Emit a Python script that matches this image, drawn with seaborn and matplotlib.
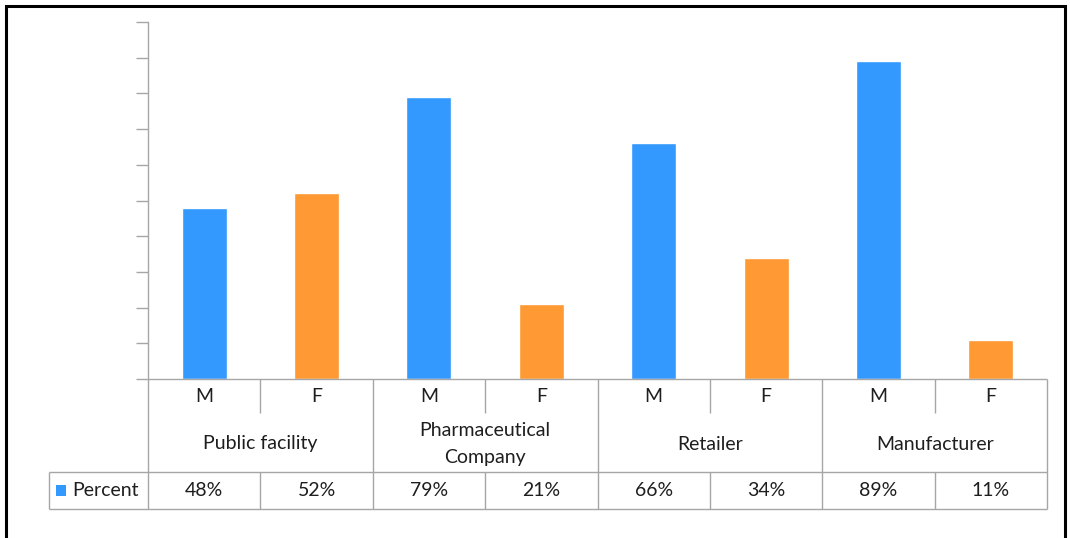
import matplotlib
matplotlib.use("Agg")
import matplotlib.pyplot as plt
from matplotlib.patches import Rectangle
from matplotlib.transforms import blended_transform_factory
import seaborn as sns
import pandas as pd

# Chart data
groups = ["Public facility", "Pharmaceutical\nCompany", "Retailer", "Manufacturer"]
sexes = ["M", "F"]
percent = [48, 52, 79, 21, 66, 34, 89, 11]
series_name = "Percent"

BLUE = "#3399FF"
ORANGE = "#FF9933"
GRID = "#A6A6A6"
TEXT = "#1E1E1E"

sns.set_theme(style="white")
plt.rcParams["font.family"] = ["Lato", "DejaVu Sans"]

rows = []
for gi, g in enumerate(groups):
    for si, s in enumerate(sexes):
        rows.append({"slot": f"{gi}-{s}", "sex": s, "value": percent[gi * 2 + si]})
df = pd.DataFrame(rows)

fig = plt.figure(figsize=(10.70, 5.38), dpi=100)
ax = fig.add_axes([148 / 1070, (538 - 379) / 538, (1047 - 148) / 1070, (379 - 22) / 538])

sns.barplot(data=df, x="slot", y="value", hue="sex", palette={"M": BLUE, "F": ORANGE},
            dodge=False, width=0.4, saturation=1, legend=False, ax=ax)

ax.set_xlim(-0.5, 7.5)
ax.set_ylim(0, 100)
ax.set_yticks(range(0, 101, 10))
ax.set_yticklabels([])
ax.set_xticks([])
ax.set_xlabel("")
ax.set_ylabel("")
for side in ["top", "right", "bottom"]:
    ax.spines[side].set_visible(False)
ax.spines["left"].set_color(GRID)
ax.spines["left"].set_linewidth(1.0)
ax.tick_params(axis="y", which="both", left=True, length=9, width=1.0, color=GRID, direction="out")

# Data table beneath the plot
tr = blended_transform_factory(ax.transData, ax.transAxes)
h = 357.0
y0 = 0.0
y_sub = -34 / h
y_grp = -93 / h
y_row = -130 / h
x_left = -0.5 - 99 / 112.375
lw = 1.0

def hline(y, x1, x2):
    ax.plot([x1, x2], [y, y], color=GRID, lw=lw, transform=tr, clip_on=False, solid_capstyle="butt")

def vline(x, y1, y2):
    ax.plot([x, x], [y1, y2], color=GRID, lw=lw, transform=tr, clip_on=False, solid_capstyle="butt")

hline(y0, -0.5, 7.5)
hline(y_grp, x_left, 7.5)
hline(y_row, x_left, 7.5)
for k in range(5):
    vline(-0.5 + 2 * k, y0, y_row)
for k in range(4):
    vline(0.5 + 2 * k, y0, y_sub)
    vline(0.5 + 2 * k, y_grp, y_row)
vline(x_left, y_grp, y_row)

fs = 14
for i in range(8):
    ax.text(i, -17 / h, sexes[i % 2], ha="center", va="center", fontsize=fs, color=TEXT,
            transform=tr)
    ax.text(i, -112 / h, f"{percent[i]}%", ha="center", va="center", fontsize=fs, color=TEXT,
            transform=tr)
for gi, g in enumerate(groups):
    ax.text(2 * gi + 0.5, -65 / h, g, ha="center", va="center", fontsize=fs, color=TEXT,
            transform=tr, linespacing=1.65)

# Legend key in the table row
ax.add_patch(Rectangle((x_left + 7 / 112.375, -117 / h), 10 / 112.375, 11 / h, transform=tr,
                       facecolor=BLUE, edgecolor="none", clip_on=False))
ax.text(x_left + 23 / 112.375, -112 / h, series_name, ha="left", va="center", fontsize=fs,
        color=TEXT, transform=tr)

# Chart frame
fig.add_artist(Rectangle((6 / 1070, -0.02), (1065 - 6) / 1070, (538 - 6) / 538 + 0.02,
                         transform=fig.transFigure, fill=False, edgecolor="black", lw=2.2))

fig.savefig("out.png", dpi=100)
